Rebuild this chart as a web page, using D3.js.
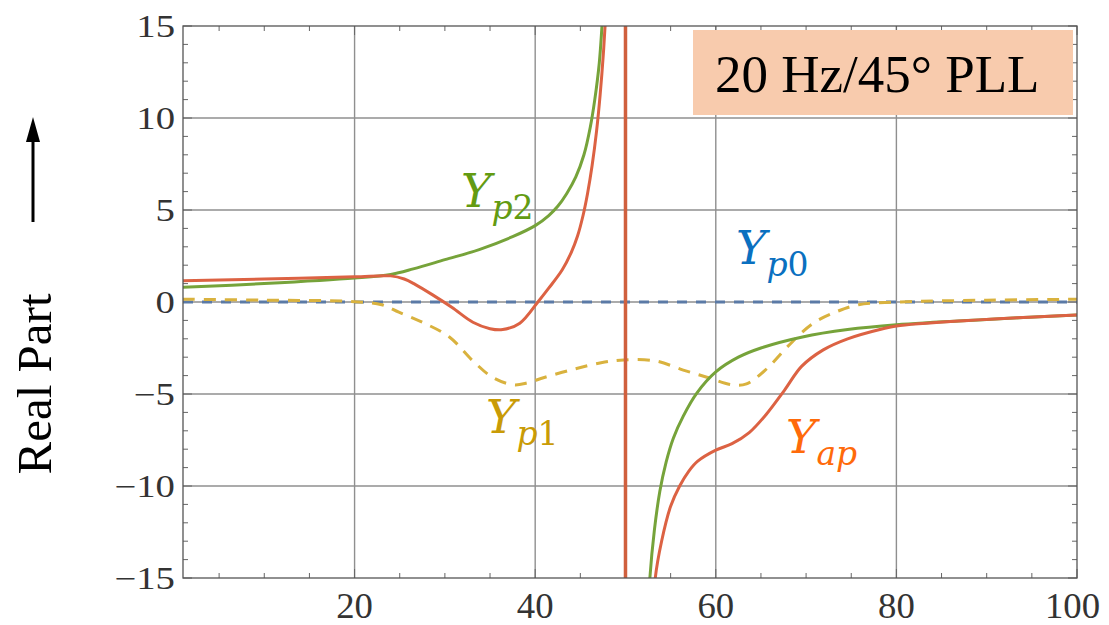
<!DOCTYPE html>
<html>
<head>
<meta charset="utf-8">
<script src="https://cdn.jsdelivr.net/npm/d3@7"></script>
<style>
  body { margin: 0; background: #fff; }
</style>
</head>
<body>
<div id="chart"></div>
<script>
// frequency (Hz) vs real part
const yp2Left = [[1,0.8],[10,1.0],[20,1.3],[24,1.5],[26.5,1.8],[30,2.3],[33.8,2.85],[37.5,3.55],[40,4.15],[41.5,4.7],[42.5,5.2],[43.5,5.9],[44.5,6.8],[45.4,8.0],[46.1,9.5],[46.6,11],[47.1,13],[47.4,15],[47.6,16.5]];
const yp2Right = [[52.5,-17],[52.7,-15],[53.2,-12.4],[53.8,-10.3],[54.5,-8.7],[55.3,-7.4],[56.4,-6.2],[57.9,-4.95],[60,-3.8],[62.5,-3.0],[65,-2.5],[69.6,-1.9],[74.6,-1.5],[80,-1.24],[90,-0.95],[100,-0.7]];
const yapLeft = [[1,1.15],[10,1.25],[20,1.37],[24,1.42],[25.5,1.25],[26.7,0.96],[28.6,0.4],[30.8,-0.3],[33.1,-1.1],[35,-1.45],[36.4,-1.5],[38.3,-1.15],[40.3,0],[41.5,0.75],[43,1.75],[44,2.7],[44.7,3.6],[45.3,4.7],[45.8,5.9],[46.3,7.4],[46.8,9.3],[47.2,11.3],[47.55,13.5],[47.8,15.5],[47.95,17]];
const yapRight = [[53.1,-17],[53.3,-15],[54,-13],[55,-11.1],[56,-10],[57,-9.2],[58,-8.65],[60,-8.05],[61.8,-7.7],[63.7,-7.1],[65.6,-6.1],[67.6,-4.8],[69.5,-3.5],[71.9,-2.6],[74.6,-2.0],[78.5,-1.45],[80,-1.3],[88,-1.0],[100,-0.7]];
const yapPole = [[50,17],[50,-17]];
const yp1 = [[1,0.15],[10,0.1],[20,0.02],[23,-0.15],[24.9,-0.55],[27.5,-1.1],[30.5,-1.9],[33.1,-3.2],[35.3,-4.1],[37.6,-4.5],[39.1,-4.4],[41,-4.1],[44.3,-3.65],[47.3,-3.3],[49.8,-3.15],[53.3,-3.2],[56.4,-3.7],[59.1,-4.1],[61.8,-4.5],[63.4,-4.45],[65.7,-3.6],[68,-2.4],[70.8,-1.15],[73.5,-0.5],[75.8,-0.15],[80.5,0],[90,0.1],[100,0.15]];
const yp0 = [[1,0],[100,0]];

const xTicks = [20, 40, 60, 80, 100];
const yTicks = [-15, -10, -5, 0, 5, 10, 15];

const width = 1109, height = 625;
const margin = { top: 26, right: 32, bottom: 47, left: 183 };
const serif = "'Liberation Serif', 'Times New Roman', Times, serif";

const svg = d3.select("#chart").append("svg")
    .attr("width", width)
    .attr("height", height);

const x = d3.scaleLinear().domain([1, 100]).range([margin.left, width - margin.right]);
const y = d3.scaleLinear().domain([-15, 15]).range([height - margin.bottom, margin.top]);

// grid
svg.append("g")
    .selectAll("line")
    .data([20, 40, 60, 80])
    .enter().append("line")
    .attr("x1", d => x(d)).attr("x2", d => x(d))
    .attr("y1", y(15)).attr("y2", y(-15))
    .attr("stroke", "#8f8f8f").attr("stroke-width", 1.4);
svg.append("g")
    .selectAll("line")
    .data([-10, -5, 0, 5, 10])
    .enter().append("line")
    .attr("x1", x(1)).attr("x2", x(100))
    .attr("y1", d => y(d)).attr("y2", d => y(d))
    .attr("stroke", "#8f8f8f").attr("stroke-width", 1.4);

// frame ticks, mathematica style (inward)
const xMinor = d3.range(5, 101, 5).filter(v => v % 20 !== 0);
const yMinor = d3.range(-15, 16, 1).filter(v => v % 5 !== 0);
const tickG = svg.append("g").attr("stroke", "#666").attr("stroke-width", 1);
[[y(-15), -1], [y(15), 1]].forEach(([yy, s]) => {
    tickG.selectAll(null).data(xTicks).enter().append("line")
        .attr("x1", d => x(d)).attr("x2", d => x(d))
        .attr("y1", yy).attr("y2", yy + s * 9);
    tickG.selectAll(null).data(xMinor).enter().append("line")
        .attr("x1", d => x(d)).attr("x2", d => x(d))
        .attr("y1", yy).attr("y2", yy + s * 5);
});
[[x(1), 1], [x(100), -1]].forEach(([xx, s]) => {
    tickG.selectAll(null).data(yTicks).enter().append("line")
        .attr("x1", xx).attr("x2", xx + s * 9)
        .attr("y1", d => y(d)).attr("y2", d => y(d));
    tickG.selectAll(null).data(yMinor).enter().append("line")
        .attr("x1", xx).attr("x2", xx + s * 5)
        .attr("y1", d => y(d)).attr("y2", d => y(d));
});

svg.append("clipPath").attr("id", "clip")
    .append("rect")
    .attr("x", x(1)).attr("y", y(15))
    .attr("width", x(100) - x(1)).attr("height", y(-15) - y(15));

const line = d3.line()
    .x(d => x(d[0]))
    .y(d => y(d[1]))
    .curve(d3.curveCatmullRom.alpha(0.5));

const plot = svg.append("g").attr("clip-path", "url(#clip)");

function draw(data, color, w, dash) {
    plot.append("path")
        .datum(data)
        .attr("fill", "none")
        .attr("stroke", color)
        .attr("stroke-width", w)
        .attr("stroke-dasharray", dash || null)
        .attr("d", line);
}

draw(yp0, "#5b7aa6", 3, "10,9");
draw(yp1, "#d9b23e", 3, "12,9");
draw(yp2Left, "#76a33a", 3);
draw(yp2Right, "#76a33a", 3);
draw(yapLeft, "#dc6243", 3);
draw(yapRight, "#dc6243", 3);
plot.append("path")
    .datum(yapPole)
    .attr("fill", "none")
    .attr("stroke", "#d0603e")
    .attr("stroke-width", 3.5)
    .attr("d", d3.line().x(d => x(d[0])).y(d => y(d[1])));

// frame
svg.append("rect")
    .attr("x", x(1)).attr("y", y(15))
    .attr("width", x(100) - x(1)).attr("height", y(-15) - y(15))
    .attr("fill", "none").attr("stroke", "#555").attr("stroke-width", 1.3);

// tick labels
svg.append("g")
    .selectAll("text")
    .data(yTicks)
    .enter().append("text")
    .attr("transform", d => `translate(${x(1) - 8},${y(d) + 11}) scale(1.25,1)`)
    .attr("text-anchor", "end")
    .attr("font-family", serif)
    .attr("font-size", 31)
    .attr("fill", "#333")
    .text(d => d < 0 ? "\u2212" + Math.abs(d) : d);

svg.append("g")
    .selectAll("text")
    .data(xTicks)
    .enter().append("text")
    .attr("transform", d => `translate(${x(d)},${y(-15) + 40}) scale(1.05,1)`)
    .attr("text-anchor", d => d === 100 ? "end" : "middle")
    .attr("dx", d => d === 100 ? 22 : 0)
    .attr("font-family", serif)
    .attr("font-size", 35)
    .attr("fill", "#333")
    .text(d => d);

// y title and arrow
svg.append("text")
    .attr("transform", "translate(51,384) rotate(-90)")
    .attr("text-anchor", "middle")
    .attr("font-family", serif)
    .attr("font-size", 49)
    .attr("fill", "#000")
    .text("Real Part");

svg.append("line")
    .attr("x1", 33).attr("x2", 33)
    .attr("y1", 222).attr("y2", 136)
    .attr("stroke", "#000").attr("stroke-width", 3);
svg.append("path")
    .attr("d", "M26,142 L33,117 L40,142 Z")
    .attr("fill", "#000");

// info box
svg.append("rect")
    .attr("x", 693).attr("y", 30)
    .attr("width", 380).attr("height", 85)
    .attr("fill", "#f8cbad");
svg.append("text")
    .attr("x", 715).attr("y", 92)
    .attr("font-family", serif)
    .attr("font-size", 53)
    .attr("fill", "#000")
    .text("20 Hz/45\u00b0 PLL");

// curve labels
const labels = [
    { main: "Y", sub: "p", num: "2", px: 461, py: 207, color: "#639b12" },
    { main: "Y", sub: "p", num: "0", px: 736, py: 264, color: "#0a70c0" },
    { main: "Y", sub: "p", num: "1", px: 486, py: 433, color: "#c99b06" },
    { main: "Y", sub: "ap", num: "", px: 786, py: 453, color: "#ff6a0a" }
];
labels.forEach(l => {
    const t = svg.append("text")
        .attr("x", l.px).attr("y", l.py)
        .attr("fill", l.color)
        .attr("font-family", "'DejaVu Serif', serif");
    t.append("tspan").attr("font-size", 46).attr("font-style", "italic").text(l.main);
    t.append("tspan").attr("font-size", 33).attr("font-style", "italic").attr("dy", 12).text(l.sub);
    if (l.num) t.append("tspan").attr("font-size", 33).text(l.num);
});
</script>
</body>
</html>
